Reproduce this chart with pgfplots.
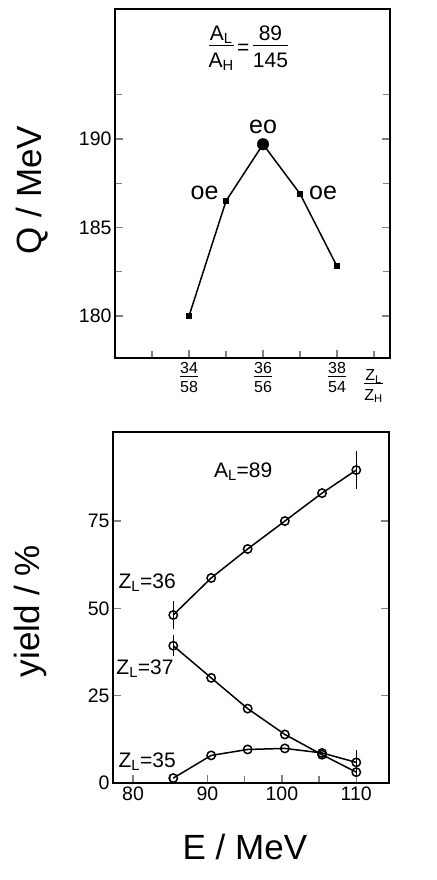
\documentclass[border=0pt]{standalone}
\usepackage{fontspec}
\setmainfont{Liberation Sans}
\usepackage{pgfplots}
\pgfplotsset{compat=1.18}
\newcommand{\fr}[2]{\begin{tabular}[c]{@{}c@{}}#1\\[-3pt]\hline\rule{0pt}{1.05em}#2\end{tabular}}
\pgfplotsset{
  every axis/.append style={
    scale only axis, tick align=inside, clip=false,
    axis line style={line width=1.8pt},
    major tick style={line width=1.4pt}, minor tick style={line width=1.4pt},
    major tick length=8pt, minor tick length=7pt,
    /pgf/number format/assume math mode=true,
    tick label style={font=\fontsize{19.5}{21}\selectfont},
  }
}
\begin{document}
\begin{tikzpicture}
\path[use as bounding box] (0pt,0pt) rectangle (436pt,880pt);
% upper panel: Q value
\begin{axis}[
  at={(115pt,522pt)}, anchor=south west,
  width=275pt, height=349pt,
  xmin=32, xmax=39.43, ymin=177.63, ymax=197.34,
  xtick={34,36,38}, minor xtick={33,35,37,39},
  xticklabels={\fr{34}{58},\fr{36}{56},\fr{38}{54}},
  xticklabel style={font=\fontsize{16}{17}\selectfont},
  xtick pos=bottom,
  ytick={180,185,190}, minor ytick={182.5,187.5,192.5},
  ylabel={Q / MeV},
  every axis y label/.style={at={(axis description cs:-0.302,0.481)}, rotate=90,
    anchor=center, font=\fontsize{35}{37}\selectfont},
]
\addplot[black, line width=1.5pt, mark=square*, mark size=2.3pt]
  coordinates {(34,180.0) (35,186.5) (36,189.7) (37,186.9) (38,182.8)};
\addplot[black, only marks, mark=*, mark size=5.8pt] coordinates {(36,189.7)};
\node[font=\fontsize{25}{27}\selectfont] at (axis cs:36,190.68) {eo};
\node[font=\fontsize{25}{27}\selectfont] at (axis cs:34.42,186.95) {oe};
\node[font=\fontsize{25}{27}\selectfont] at (axis cs:37.62,186.95) {oe};
\node[font=\fontsize{21}{23}\selectfont] at (axis cs:35.6,195.06)
  {\fr{A\textsubscript{L}}{A\textsubscript{H}}\,=\,\fr{89}{145}};
\node[font=\fontsize{16}{17}\selectfont] at (rel axis cs:0.94,-0.083)
  {\fr{Z\textsubscript{L}}{Z\textsubscript{H}}};
\end{axis}
% lower panel: yields
\begin{axis}[
  at={(113pt,97pt)}, anchor=south west,
  width=276pt, height=351pt,
  xmin=77.3, xmax=114.4, ymin=0, ymax=100.5,
  xtick={80,90,100,110}, minor xtick={85,95,105},
  xtick pos=bottom,
  ytick={0,25,50,75},
  xlabel={E / MeV}, ylabel={yield / \%},
  every axis x label/.style={at={(axis description cs:0.478,-0.182)}, anchor=center,
    font=\fontsize{35}{37}\selectfont},
  every axis y label/.style={at={(axis description cs:-0.30,0.49)}, rotate=90,
    anchor=center, font=\fontsize{35}{37}\selectfont},
  yield/.style={black, line width=1.5pt, mark=o, mark size=4.2pt,
    mark options={fill=white, line width=1.5pt},
    error bars/.cd, y dir=both, y explicit,
    error bar style={line width=1.3pt}, error mark=none},
]
% Z_L = 36
\addplot[yield]
  coordinates {(85.4,48.1) +- (0,4) (90.5,58.7) +- (0,0) (95.4,67.0) +- (0,0)
    (100.4,75.0) +- (0,0) (105.4,83.0) +- (0,0) (110,89.6) +- (0,5.5)};
% Z_L = 37
\addplot[yield]
  coordinates {(85.4,39.3) +- (0,3) (90.5,30.1) +- (0,0) (95.4,21.3) +- (0,0)
    (100.4,13.9) +- (0,0) (105.4,8.1) +- (0,0) (110,3.1) +- (0,0)};
% Z_L = 35
\addplot[yield]
  coordinates {(85.4,1.4) +- (0,0) (90.5,7.9) +- (0,0) (95.4,9.6) +- (0,0)
    (100.4,9.9) +- (0,0) (105.4,8.6) +- (0,0) (110,5.9) +- (0,3.5)};
\node[font=\fontsize{21}{23}\selectfont] at (axis cs:81.9,57.3) {Z\textsubscript{L}=36};
\node[font=\fontsize{21}{23}\selectfont] at (axis cs:81.6,32.7) {Z\textsubscript{L}=37};
\node[font=\fontsize{21}{23}\selectfont] at (axis cs:81.9,6.0) {Z\textsubscript{L}=35};
\node[font=\fontsize{21}{23}\selectfont] at (axis cs:94.8,89.1) {A\textsubscript{L}=89};
\end{axis}
\end{tikzpicture}
\end{document}
